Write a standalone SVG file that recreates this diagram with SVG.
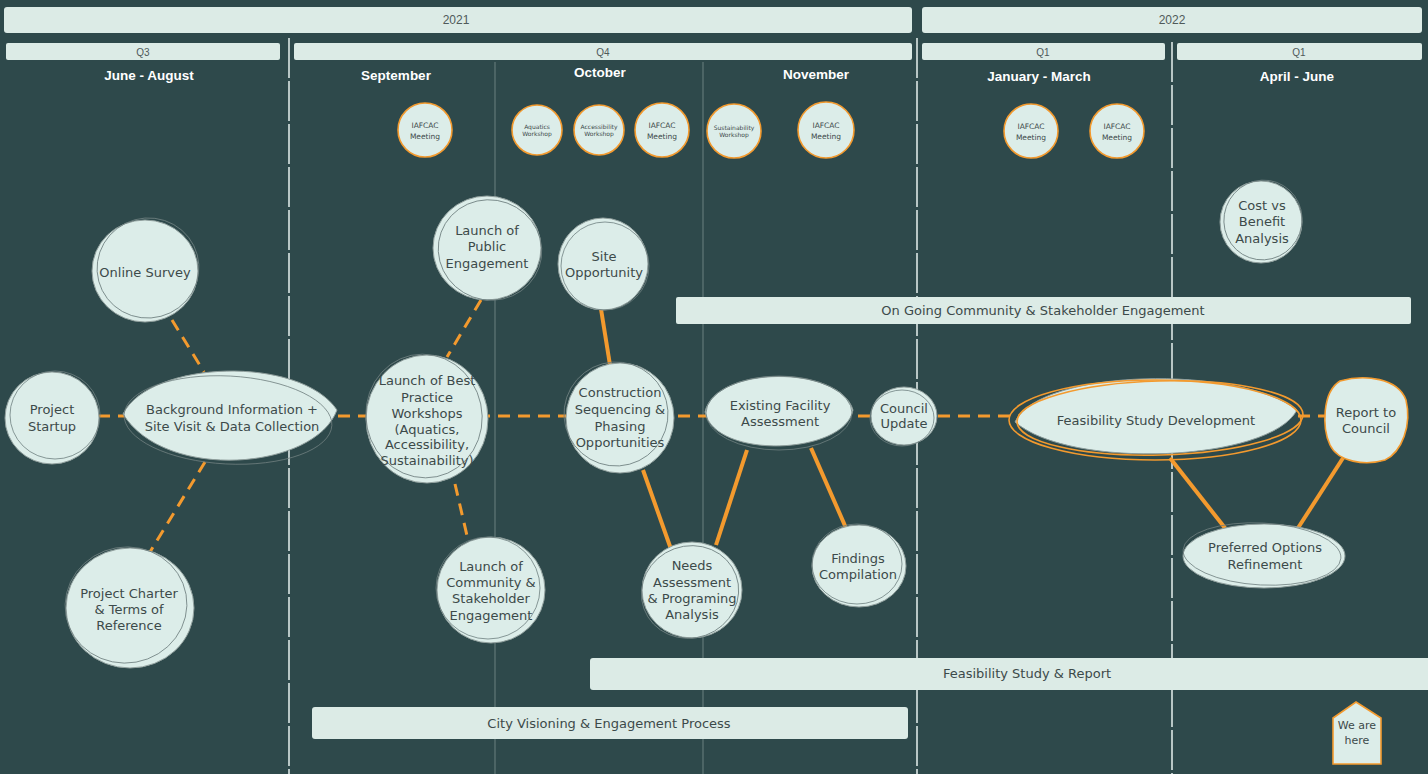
<svg xmlns="http://www.w3.org/2000/svg" width="1428" height="774" viewBox="0 0 1428 774">
<style>
.bar{fill:#dcebe6;}
.hd{font-family:"Liberation Sans",Arial,sans-serif;font-size:12px;fill:#4f5a5a;text-anchor:middle;}
.q{font-family:"Liberation Sans",Arial,sans-serif;font-size:10px;fill:#4f5a5a;text-anchor:middle;}
.mo{font-family:"Liberation Sans",Arial,sans-serif;font-size:13.5px;font-weight:bold;fill:#ffffff;text-anchor:middle;}
.nd{fill:#dcede9;stroke:#8f9e9c;stroke-width:1;}
.sk{fill:none;stroke:#6f8080;stroke-width:0.8;}
.on{fill:#dcede9;stroke:#f39a2e;stroke-width:1.6;}
.oo{fill:none;stroke:#f39a2e;stroke-width:1.6;}
.t{font-family:"DejaVu Sans",sans-serif;font-size:13px;fill:#3c4a4a;text-anchor:middle;}
.ts{font-family:"DejaVu Sans",sans-serif;font-size:7.5px;fill:#3c4a4a;text-anchor:middle;}
.tw{font-family:"DejaVu Sans",sans-serif;font-size:6px;fill:#3c4a4a;text-anchor:middle;}
.bt{font-family:"DejaVu Sans",sans-serif;font-size:13px;fill:#3c4a4a;text-anchor:middle;}
.dl{stroke:#f39a2e;stroke-width:3;stroke-dasharray:12 8;fill:none;}
.sl{stroke:#f39a2e;stroke-width:4;fill:none;}
.vd{stroke:#e6efee;stroke-width:1.5;stroke-dasharray:40 3;}
.vt{stroke:#627877;stroke-width:1.2;}
</style>
<rect x="0" y="0" width="1428" height="774" fill="#2e494b"/>

<g id="grid">
<line class="vd" x1="289" y1="38" x2="289" y2="774"/>
<line class="vd" x1="917" y1="38" x2="917" y2="774"/>
<line class="vd" x1="1172" y1="42" x2="1172" y2="774"/>
<line class="vt" x1="495" y1="62" x2="495" y2="774"/>
<line class="vt" x1="703" y1="62" x2="703" y2="774"/>
</g>

<g id="header">
<rect class="bar" x="4" y="7" width="908" height="26" rx="3"/>
<text class="hd" x="456" y="24">2021</text>
<rect class="bar" x="922" y="7" width="500" height="26" rx="3"/>
<text class="hd" x="1172" y="24">2022</text>
<rect class="bar" x="6" y="43" width="274" height="17" rx="2"/>
<text class="q" x="143" y="56">Q3</text>
<rect class="bar" x="294" y="43" width="618" height="17" rx="2"/>
<text class="q" x="603" y="56">Q4</text>
<rect class="bar" x="922" y="43" width="243" height="17" rx="2"/>
<text class="q" x="1043" y="56">Q1</text>
<rect class="bar" x="1177" y="43" width="245" height="17" rx="2"/>
<text class="q" x="1299" y="56">Q1</text>
<text class="mo" x="149" y="80">June - August</text>
<text class="mo" x="396" y="80">September</text>
<text class="mo" x="600" y="77">October</text>
<text class="mo" x="816" y="79">November</text>
<text class="mo" x="1039" y="81">January - March</text>
<text class="mo" x="1297" y="81">April - June</text>
</g>

<g id="bars">
<rect class="bar" x="676" y="297" width="735" height="27" rx="2"/>
<text class="bt" x="1043" y="315">On Going Community &amp; Stakeholder Engagement</text>
<rect class="bar" x="590" y="658" width="840" height="32" rx="3"/>
<text class="bt" x="1027" y="678">Feasibility Study &amp; Report</text>
<rect class="bar" x="312" y="707" width="596" height="32" rx="3"/>
<text class="bt" x="609" y="728">City Visioning &amp; Engagement Process</text>
</g>

<g id="connectors">
<line class="dl" x1="98" y1="416" x2="1330" y2="416"/>
<line class="dl" x1="172" y1="320" x2="204" y2="372"/>
<line class="dl" x1="205" y1="462" x2="150" y2="552"/>
<line class="dl" x1="481" y1="300" x2="447" y2="357"/>
<line class="dl" x1="455" y1="484" x2="468" y2="540"/>
<line class="sl" x1="601" y1="309" x2="610" y2="365"/>
<line class="sl" x1="643" y1="470" x2="672" y2="552"/>
<line class="sl" x1="747" y1="450" x2="716" y2="545"/>
<line class="sl" x1="811" y1="448" x2="846" y2="528"/>
<line class="sl" x1="1170" y1="458" x2="1225" y2="528"/>
<line class="sl" x1="1343" y1="458" x2="1298" y2="528"/>
</g>

<g id="meetings">
<g id="m1"><circle class="on" cx="425" cy="130" r="27"/><text class="ts" x="425" y="128">IAFCAC</text><text class="ts" x="425" y="139">Meeting</text></g>
<g id="m2"><circle class="on" cx="537" cy="130" r="25"/><text class="tw" x="537" y="129">Aquatics</text><text class="tw" x="537" y="136">Workshop</text></g>
<g id="m3"><circle class="on" cx="599" cy="130" r="25"/><text class="tw" x="599" y="129">Accessibility</text><text class="tw" x="599" y="136">Workshop</text></g>
<g id="m4"><circle class="on" cx="662" cy="130" r="27"/><text class="ts" x="662" y="128">IAFCAC</text><text class="ts" x="662" y="139">Meeting</text></g>
<g id="m5"><circle class="on" cx="734" cy="131" r="27"/><text class="tw" x="734" y="130">Sustainability</text><text class="tw" x="734" y="137">Workshop</text></g>
<g id="m6"><circle class="on" cx="826" cy="130" r="28"/><text class="ts" x="826" y="128">IAFCAC</text><text class="ts" x="826" y="139">Meeting</text></g>
<g id="m7"><circle class="on" cx="1031" cy="131" r="27"/><text class="ts" x="1031" y="129">IAFCAC</text><text class="ts" x="1031" y="140">Meeting</text></g>
<g id="m8"><circle class="on" cx="1117" cy="131" r="27"/><text class="ts" x="1117" y="129">IAFCAC</text><text class="ts" x="1117" y="140">Meeting</text></g>
</g>

<g id="n-online-survey">
<ellipse class="nd" cx="145" cy="271" rx="53" ry="51"/>
<ellipse class="sk" cx="148" cy="268" rx="51" ry="50" transform="rotate(-15 148 268)"/>
<text class="t" x="145" y="277">Online Survey</text>
</g>
<g id="n-project-startup">
<ellipse class="nd" cx="52" cy="418" rx="47" ry="46"/>
<ellipse class="sk" cx="55" cy="415" rx="45" ry="44"/>
<text class="t" x="52" y="414">Project</text>
<text class="t" x="52" y="431">Startup</text>
</g>
<g id="n-background">
<path class="nd" d="M123,414 C150,360 300,355 337,410 C315,470 165,482 123,414 Z"/>
<ellipse class="sk" cx="228" cy="420" rx="104" ry="44" transform="rotate(3 228 420)"/>
<text class="t" x="232" y="414">Background Information +</text>
<text class="t" x="232" y="431">Site Visit &amp; Data Collection</text>
</g>
<g id="n-charter">
<ellipse class="nd" cx="130" cy="608" rx="64" ry="60"/>
<ellipse class="sk" cx="126" cy="605" rx="61" ry="58" transform="rotate(-10 126 605)"/>
<text class="t" x="129" y="598">Project Charter</text>
<text class="t" x="129" y="614">&amp; Terms of</text>
<text class="t" x="129" y="630">Reference</text>
</g>
<g id="n-public">
<ellipse class="nd" cx="487" cy="248" rx="54" ry="52"/>
<ellipse class="sk" cx="490" cy="250" rx="52" ry="50" transform="rotate(20 490 250)"/>
<text class="t" x="487" y="235">Launch of</text>
<text class="t" x="487" y="251">Public</text>
<text class="t" x="487" y="268">Engagement</text>
</g>
<g id="n-site">
<ellipse class="nd" cx="603" cy="264" rx="45" ry="46"/>
<ellipse class="sk" cx="605" cy="266" rx="44" ry="44"/>
<text class="t" x="604" y="261">Site</text>
<text class="t" x="604" y="277">Opportunity</text>
</g>
<g id="n-bestpractice">
<ellipse class="nd" cx="427" cy="419" rx="61" ry="64"/>
<ellipse class="sk" cx="424" cy="416" rx="58" ry="62" transform="rotate(-12 424 416)"/>
<text class="t" x="427" y="385">Launch of Best</text>
<text class="t" x="427" y="402">Practice</text>
<text class="t" x="427" y="418">Workshops</text>
<text class="t" x="427" y="434">(Aquatics,</text>
<text class="t" x="427" y="449">Accessibility,</text>
<text class="t" x="427" y="465">Sustainability)</text>
</g>
<g id="n-construction">
<ellipse class="nd" cx="620" cy="418" rx="54" ry="55"/>
<ellipse class="sk" cx="616" cy="414" rx="52" ry="52" transform="rotate(-15 616 414)"/>
<text class="t" x="620" y="397">Construction</text>
<text class="t" x="620" y="414">Sequencing &amp;</text>
<text class="t" x="620" y="431">Phasing</text>
<text class="t" x="620" y="447">Opportunities</text>
</g>
<g id="n-existing">
<path class="nd" d="M705,412 C715,365 840,365 853,410 C845,455 715,460 705,412 Z"/>
<ellipse class="sk" cx="779" cy="413" rx="73" ry="37"/>
<text class="t" x="780" y="410">Existing Facility</text>
<text class="t" x="780" y="426">Assessment</text>
</g>
<g id="n-council">
<ellipse class="nd" cx="904" cy="416" rx="33" ry="29"/>
<ellipse class="sk" cx="902" cy="418" rx="32" ry="28"/>
<text class="t" x="904" y="413">Council</text>
<text class="t" x="904" y="428">Update</text>
</g>
<g id="n-feasibility">
<path class="nd" d="M1015,422 C1040,368 1240,365 1297,410 C1270,462 1070,470 1015,422 Z"/>
<ellipse class="oo" cx="1155" cy="420" rx="146" ry="40"/>
<ellipse class="oo" cx="1160" cy="418" rx="143" ry="37" transform="rotate(-1.5 1160 418)"/>
<text class="t" x="1156" y="425">Feasibility Study Development</text>
</g>
<g id="n-report">
<path class="on" d="M1340,381 C1365,374 1398,378 1406,400 C1412,425 1402,452 1385,460 C1365,466 1338,462 1330,445 C1322,428 1322,392 1340,381 Z"/>
<text class="t" x="1366" y="417">Report to</text>
<text class="t" x="1366" y="433">Council</text>
</g>
<g id="n-cost">
<ellipse class="nd" cx="1261" cy="222" rx="41" ry="41"/>
<ellipse class="sk" cx="1263" cy="220" rx="39" ry="40" transform="rotate(20 1263 220)"/>
<text class="t" x="1262" y="210">Cost vs</text>
<text class="t" x="1262" y="226">Benefit</text>
<text class="t" x="1262" y="243">Analysis</text>
</g>
<g id="n-community">
<ellipse class="nd" cx="491" cy="590" rx="54" ry="53"/>
<ellipse class="sk" cx="488" cy="588" rx="52" ry="51"/>
<text class="t" x="491" y="571">Launch of</text>
<text class="t" x="491" y="587">Community &amp;</text>
<text class="t" x="491" y="603">Stakeholder</text>
<text class="t" x="491" y="620">Engagement</text>
</g>
<g id="n-needs">
<ellipse class="nd" cx="692" cy="590" rx="50" ry="48"/>
<ellipse class="sk" cx="690" cy="592" rx="49" ry="46" transform="rotate(-20 690 592)"/>
<text class="t" x="692" y="570">Needs</text>
<text class="t" x="692" y="587">Assessment</text>
<text class="t" x="692" y="603">&amp; Programing</text>
<text class="t" x="692" y="619">Analysis</text>
</g>
<g id="n-findings">
<ellipse class="nd" cx="859" cy="566" rx="47" ry="41"/>
<ellipse class="sk" cx="857" cy="564" rx="45" ry="40"/>
<text class="t" x="858" y="563">Findings</text>
<text class="t" x="858" y="579">Compilation</text>
</g>
<g id="n-preferred">
<ellipse class="nd" cx="1264" cy="556" rx="81" ry="32"/>
<ellipse class="sk" cx="1262" cy="554" rx="79" ry="31" transform="rotate(3 1262 554)"/>
<text class="t" x="1265" y="552">Preferred Options</text>
<text class="t" x="1265" y="569">Refinement</text>
</g>
<g id="n-we-are-here">
<path class="on" d="M1356,702 L1381,718 L1381,764 L1333,764 L1333,718 Z"/>
<text class="t" x="1357" y="729" style="font-size:11px">We are</text>
<text class="t" x="1357" y="744" style="font-size:11px">here</text>
</g>
</svg>
